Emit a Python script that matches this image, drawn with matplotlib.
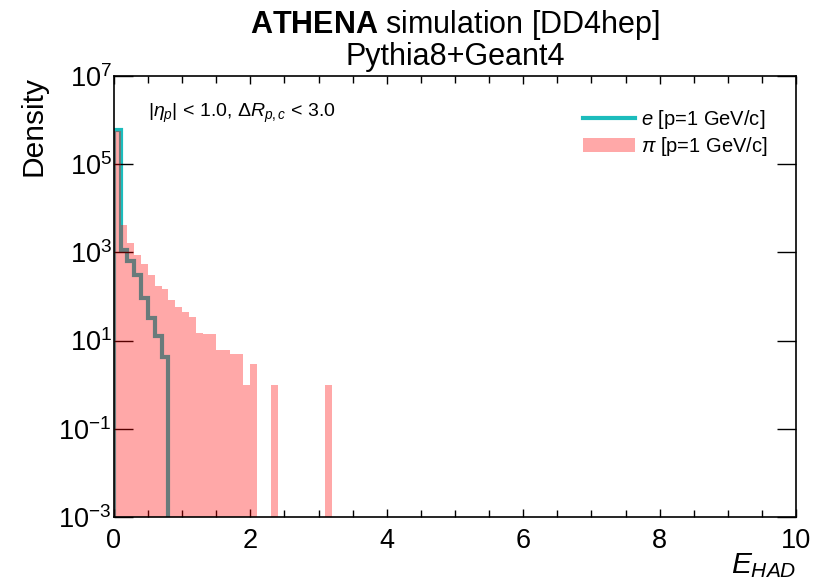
import numpy as np
import matplotlib
matplotlib.use("Agg")
import matplotlib.pyplot as plt
from matplotlib.lines import Line2D
from matplotlib.patches import Patch
from matplotlib.ticker import MultipleLocator, NullLocator

plt.rcParams['font.family'] = ['Liberation Sans', 'DejaVu Sans']
plt.rcParams['mathtext.fontset'] = 'custom'
plt.rcParams['mathtext.rm'] = 'Liberation Sans'
plt.rcParams['mathtext.it'] = 'Liberation Sans:italic'
plt.rcParams['mathtext.bf'] = 'Liberation Sans:bold'

# --- data (density per 0.1-wide bin of E_HAD) ---
bin_width = 0.1
pion_density = [5.5e5, 4.1e3, 1.6e3, 8.5e2, 5.3e2, 3.1e2, 1.7e2, 1.5e2,
                85, 59, 45, 35, 15, 14, 14, 6, 6, 5, 5, 1, 3,
                0, 0, 1, 0, 0, 0, 0, 0, 0, 0, 1]
electron_density = [5.8e5, 1.1e3, 6.5e2, 3.0e2, 90, 32, 13, 4.3]

e_label = r"$e$ [p=1 GeV/c]"
pi_label = r"$\pi$ [p=1 GeV/c]"
teal = '#1cbcbc'

pi_edges = np.arange(len(pion_density) + 1) * bin_width
e_edges = np.arange(len(electron_density) + 1) * bin_width

fig = plt.figure(figsize=(8.25, 5.83), dpi=100)
ax = fig.add_axes([0.138, 0.113, 0.827, 0.757])

# electron step line underneath, pion filled hist drawn over it with alpha
ax.hist(e_edges[:-1], bins=e_edges, weights=electron_density,
        histtype='step', color=teal, lw=3, log=True, zorder=1)
ax.hist(pi_edges[:-1], bins=pi_edges, weights=pion_density,
        histtype='stepfilled', color='red', alpha=0.34, lw=0, log=True,
        zorder=2)

ax.set_xlim(0, 10)
ax.set_ylim(1e-3, 1e7)
ax.set_yticks([1e-3, 1e-1, 1e1, 1e3, 1e5, 1e7])
ax.yaxis.set_minor_locator(NullLocator())
ax.xaxis.set_major_locator(MultipleLocator(2))
ax.xaxis.set_minor_locator(MultipleLocator(0.5))

ax.tick_params(which='both', direction='in', top=True, right=True,
               labelsize=19.5, width=1)
ax.tick_params(axis='y', which='major', length=14, pad=1.5)
ax.tick_params(axis='x', which='major', length=6, pad=8)
ax.tick_params(axis='x', which='minor', length=5)
for s in ax.spines.values():
    s.set_linewidth(1.2)

ax.set_ylabel("Density", fontsize=21.5, loc='top')
ax.yaxis.set_label_coords(-0.097, 1.0)
ax.set_xlabel(r"$E_{HAD}$", fontsize=21.5, loc='right', labelpad=-2)

ax.set_title(r"$\mathbf{ATHENA}$ simulation [DD4hep]" + "\nPythia8+Geant4",
             fontsize=22, linespacing=1.0, pad=8)

ax.text(0.05, 0.915, r"$|\eta_p|$ < 1.0, $\Delta R_{p,c}$ < 3.0",
        transform=ax.transAxes, fontsize=14, va='center')

handles = [Line2D([], [], color=teal, lw=3),
           Patch(facecolor='red', alpha=0.34, lw=0)]
ax.legend(handles, [e_label, pi_label], loc='upper right', fontsize=14.5,
          frameon=False, handlelength=2.6, handletextpad=0.3,
          labelspacing=0.22, bbox_to_anchor=(0.985, 0.968))

fig.savefig("out.png", dpi=100)
